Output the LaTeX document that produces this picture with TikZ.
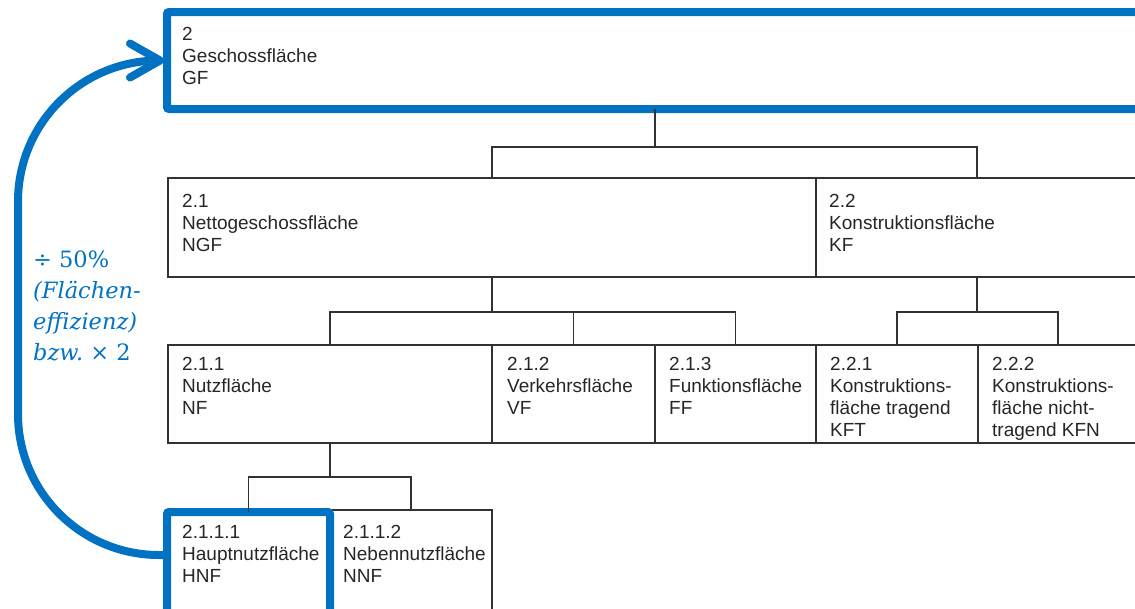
\documentclass[tikz,border=0pt]{standalone}
\usepackage{fontspec}
\setsansfont{Liberation Sans}
\newfontfamily\effizienzfont{DejaVu Serif}
\usetikzlibrary{arrows.meta}

\definecolor{flaechenblau}{RGB}{0,114,193}
\definecolor{liniengrau}{RGB}{50,50,50}

\tikzset{
  areabox/.style={draw=liniengrau, line width=1.3pt, rectangle, inner sep=0pt, outer sep=0pt, anchor=north west},
  bluebox/.style={areabox, draw=flaechenblau, line width=8pt, rounded corners=2pt},
  areatext/.style={anchor=north west, inner sep=0pt, align=left, font=\sffamily\fontsize{19}{22}\selectfont, text=black!85},
  tree/.style={draw=liniengrau, line width=1.3pt},
  flow/.style={draw=flaechenblau, line width=8pt, rounded corners=141pt,
    -{Straight Barb[length=30pt,width=34pt,round]}}
}

\begin{document}
\begin{tikzpicture}[x=1pt,y=-1pt]

  \useasboundingbox (0,0) rectangle (1135,608);
  \clip (0,0) rectangle (1135,608);

  % boxes
  \node[bluebox, minimum width=976pt, minimum height=97pt] (gf) at (167,12) {};
  \node[areabox, minimum width=648pt, minimum height=99pt] (ngf) at (168,178) {};
  \node[areabox, minimum width=322pt, minimum height=99pt] (kf) at (816,178) {};

  \node[areabox, minimum width=324pt, minimum height=98pt] (nf) at (168,345) {};
  \node[areabox, minimum width=163pt, minimum height=98pt] (vf) at (492,345) {};
  \node[areabox, minimum width=161pt, minimum height=98pt] (ff) at (655,345) {};
  \node[areabox, minimum width=162pt, minimum height=98pt] (kft) at (816,345) {};
  \node[areabox, minimum width=160pt, minimum height=98pt] (kfn) at (978,345) {};

  \node[areabox, minimum width=162pt, minimum height=110pt] (nnf) at (330,510) {};
  \node[bluebox, minimum width=163pt, minimum height=110pt] (hnf) at (167,512) {};

  % texts
  \node[areatext] at ([xshift=15pt,yshift=-15pt]gf.north west) {2\\Geschossfläche\\GF};
  \node[areatext] at ([xshift=14pt,yshift=-16pt]ngf.north west) {2.1\\Nettogeschossfläche\\NGF};
  \node[areatext] at ([xshift=13pt,yshift=-16pt]kf.north west) {2.2\\Konstruktionsfläche\\KF};
  \node[areatext] at ([xshift=14pt,yshift=-12pt]nf.north west) {2.1.1\\Nutzfläche\\NF};
  \node[areatext] at ([xshift=15pt,yshift=-12pt]vf.north west) {2.1.2\\Verkehrsfläche\\VF};
  \node[areatext] at ([xshift=14pt,yshift=-12pt]ff.north west) {2.1.3\\Funktionsfläche\\FF};
  \node[areatext] at ([xshift=14pt,yshift=-12pt]kft.north west) {2.2.1\\Konstruktions-\\fläche tragend\\KFT};
  \node[areatext] at ([xshift=14pt,yshift=-12pt]kfn.north west) {2.2.2\\Konstruktions-\\fläche nicht-\\tragend KFN};
  \node[areatext] at ([xshift=15pt,yshift=-13pt]hnf.north west) {2.1.1.1\\Hauptnutzfläche\\HNF};
  \node[areatext] at ([xshift=13pt,yshift=-15pt]nnf.north west) {2.1.1.2\\Nebennutzfläche\\NNF};

  % tree lines
  \draw[tree] (gf.south) -- ++(0,38) coordinate (gfbus);
  \draw[tree] (gfbus) -| (ngf.north);
  \draw[tree] (gfbus) -| (kf.north);

  \draw[tree] (ngf.south) -- ++(0,35) coordinate (ngfbus);
  \draw[tree] (ngfbus) -| (nf.north);
  \draw[tree] (ngfbus) -| (vf.north);
  \draw[tree] (ngfbus) -| (ff.north);

  \draw[tree] (kf.south) -- ++(0,35) coordinate (kfbus);
  \draw[tree] (kfbus) -| (kft.north);
  \draw[tree] (kfbus) -| (kfn.north);

  \draw[tree] (nf.south) -- ++(0,34) coordinate (nfbus);
  \draw[tree] (nfbus) -| (hnf.north);
  \draw[tree] (nfbus) -| (nnf.north);

  % efficiency arrow
  \coordinate (hnfout) at ([yshift=-43pt]hnf.north west);
  \coordinate (bend) at (18,0);
  \draw[flow] (hnfout) -| (bend |- gf.west) -- ([xshift=-3pt]gf.west);
  \node[anchor=north west, inner sep=0pt, align=left, text=flaechenblau,
    font=\effizienzfont\fontsize{22.5}{31}\selectfont] (effizienz) at (33,251)
    {÷ 50\%\\\itshape(Flächen-\\\itshape effizienz)\\\itshape bzw.\upshape\ × 2};

\end{tikzpicture}
\end{document}
